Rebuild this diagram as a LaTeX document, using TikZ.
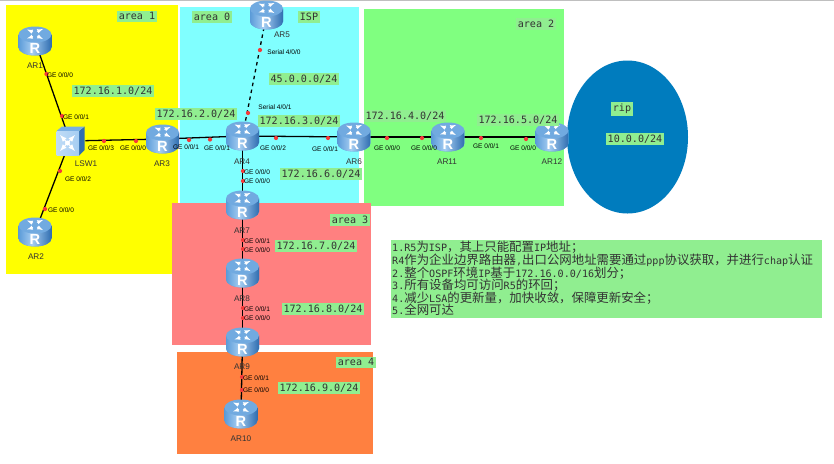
\documentclass[tikz,border=0pt]{standalone}
\usepackage{fontspec}
\setmainfont{Liberation Sans}
\setmonofont{DejaVu Sans Mono}
\newfontfamily\cjk{Noto Sans CJK SC}
\newcommand{\FP}{\fontsize{5.6}{6.5}\selectfont}
\newcommand{\FN}{\fontsize{7}{8}\selectfont}
\newcommand{\FM}{\ttfamily\fontsize{8.6}{10.8}\selectfont}
\newcommand{\zh}[1]{{\cjk\fontsize{10.6}{10.8}\selectfont #1}}
\definecolor{areaY}{HTML}{FFFF00}
\definecolor{areaC}{HTML}{80FFFF}
\definecolor{areaG}{HTML}{80FF80}
\definecolor{areaR}{HTML}{FF8080}
\definecolor{areaO}{HTML}{FF8040}
\definecolor{ripblue}{HTML}{007CBE}
\definecolor{tag}{HTML}{90EE90}
\definecolor{dotred}{HTML}{F53A3A}
\definecolor{icolight}{HTML}{A5CDF2}
\definecolor{icomid}{HTML}{5B9BD8}
\definecolor{icodark}{HTML}{2F6DB0}
\tikzset{
  router/.pic={
    \fill[icomid] (-16.5,-6.5) -- (-16.5,6.5)
      .. controls (-16.5,11) and (-9,14.5) .. (0,14.5)
      .. controls (9,14.5) and (16.5,11) .. (16.5,6.5)
      -- (16.5,-6.5) -- cycle;
    \begin{scope}
      \clip (-16.5,-6.5) -- (-16.5,6.5)
        .. controls (-16.5,11) and (-9,14.5) .. (0,14.5)
        .. controls (9,14.5) and (16.5,11) .. (16.5,6.5)
        -- (16.5,-6.5) -- cycle;
      \shade[left color=icomid,right color=icolight] (-16.5,-7) rectangle (-3,15);
      \shade[left color=icolight,right color=icodark] (-3,-7) rectangle (16.5,15);
    \end{scope}
    \fill[icomid!70!icolight] (0,-6.5) ellipse[x radius=16.5,y radius=8];
    \draw[white,line width=0.7pt,-latex] (-2,-9) -- (-8,-11.5);
    \draw[white,line width=0.7pt,-latex] (2,-9.5) -- (8,-12);
    \draw[white,line width=0.7pt,-latex] (-2,-4.5) -- (-8,-2.5);
    \draw[white,line width=0.7pt,-latex] (2,-5) -- (8,-2);
    \node[white,font=\bfseries\fontsize{12.5}{12.5}\selectfont,inner sep=0pt] (r) at (0,7.5) {R};
  },
  switchicon/.pic={
    \fill[icodark] (9,-10) -- (14.5,-14.5) -- (14.5,9) -- (9,14.5) -- cycle;
    \fill[icomid!60!icolight] (-13.5,-10) -- (-8,-14.5) -- (14.5,-14.5) -- (9,-10) -- cycle;
    \shade[left color=icolight!70!white,right color=icolight] (-13.5,-10) rectangle (9,14.5);
    \draw[white,line width=1pt,latex-latex] (-10,-6) -- (5,10);
    \draw[white,line width=1pt,latex-latex] (-10,10) -- (5,-6);
    \fill[white] (-2.5,2) circle (2.5);
  }
}
\begin{document}
\begin{tikzpicture}[x=0.03cm,y=-0.03cm]
\tikzstyle{dot}=[circle,fill=dotred,draw=none,inner sep=0pt,minimum size=3.6pt]
\tikzstyle{port}=[inner sep=0pt,text=black,font=\FP]
\tikzstyle{host}=[inner sep=0pt,text=black!80,font=\FN]
\tikzstyle{texto}=[fill=tag,inner sep=1.5pt,text=black!80,font=\FM]
\tikzstyle{link}=[black,line width=1.1pt]
\tikzstyle{hub}=[inner sep=0pt,minimum width=26pt,minimum height=21pt]

\useasboundingbox (0,0) rectangle (834,463);
\fill[white] (0,0) rectangle (834,463);
\fill[black!25!white] (0,0) rectangle (834,1.2);

\fill[areaY] (6,5) rectangle (178,274);
\fill[areaC] (180,7) rectangle (359,203);
\fill[areaG] (364,9) rectangle (564,206);
\fill[areaR] (172,203) rectangle (371,345);
\fill[areaO] (177,352) rectangle (373,454);
\fill[ripblue] (627.5,137) ellipse[x radius=60.5,y radius=76.5];

\foreach \hubname/\x/\y in {ar1/35/41,ar2/35/232,lsw1/70/141,ar3/162.5/139,ar4/242.5/136,ar5/266.5/15,ar6/354/137,ar11/448/137,ar12/552/137,ar7/242.5/205,ar8/242.5/273,ar9/242.5/342,ar10/241/414}
  \node[hub] (\hubname) at (\x,\y) {};

\draw[link] (ar1) -- (lsw1);
\draw[link] (ar2) -- (lsw1);
\draw[link] (lsw1) -- (ar3);
\draw[link] (ar3) -- (ar4);
\draw[link,dashed] (ar5) -- (ar4);
\draw[link] (ar4) -- (ar6);
\draw[link] (ar6) -- (ar11);
\draw[link] (ar11) -- (ar12);
\draw[link] (ar4) -- (ar7);
\draw[link] (ar7) -- (ar8);
\draw[link] (ar8) -- (ar9);
\draw[link] (ar9) -- (ar10);

\foreach \hubname in {ar1,ar2,ar3,ar4,ar5,ar6,ar11,ar12,ar7,ar8,ar9,ar10}
  \pic (\hubname) at (\hubname) {router};
\pic (lsw1) at (lsw1) {switchicon};

\foreach \x/\y [count=\i] in {46.5/74,62/116,60/171,45/209,104/141,136/141,189/140,210/139.5,260/50,248/113,276/138,328/138,387/138,422/138,481/138,526/139,243/171,243/181,243/240,243/249,243/308,243/318,242/377,242/390}
  \node[dot] (dot\i) at (\x,\y) {};

\node[port] (p1) at (60,75) {GE 0/0/0};
\node[port] (p2) at (76,117) {GE 0/0/1};
\node[port] (p3) at (78,179) {GE 0/0/2};
\node[port] (p4) at (61,210) {GE 0/0/0};
\node[port] (p5) at (101,148) {GE 0/0/3};
\node[port] (p6) at (133,148) {GE 0/0/0};
\node[port] (p7) at (186,147) {GE 0/0/1};
\node[port] (p8) at (217,148) {GE 0/0/1};
\node[port] (p9) at (284,52) {Serial 4/0/0};
\node[port] (p10) at (275,107) {Serial 4/0/1};
\node[port] (p11) at (273,148) {GE 0/0/2};
\node[port] (p12) at (325,149) {GE 0/0/1};
\node[port] (p13) at (387,148) {GE 0/0/0};
\node[port] (p14) at (424,148) {GE 0/0/0};
\node[port] (p15) at (486,146) {GE 0/0/1};
\node[port] (p16) at (523,148) {GE 0/0/0};
\node[port] (p17) at (257,172) {GE 0/0/0};
\node[port] (p18) at (257,181) {GE 0/0/0};
\node[port] (p19) at (257,241) {GE 0/0/1};
\node[port] (p20) at (257,250) {GE 0/0/0};
\node[port] (p21) at (257,309) {GE 0/0/1};
\node[port] (p22) at (257,318) {GE 0/0/0};
\node[port] (p23) at (256,378) {GE 0/0/1};
\node[port] (p24) at (256,390) {GE 0/0/0};

\node[host] (n1) at (35,66) {AR1};
\node[host] (n2) at (36,257) {AR2};
\node[host] (n3) at (86,164) {LSW1};
\node[host] (n4) at (162,164) {AR3};
\node[host] (n5) at (242,162) {AR4};
\node[host] (n6) at (282,35) {AR5};
\node[host] (n7) at (354,162) {AR6};
\node[host] (n8) at (447,162) {AR11};
\node[host] (n9) at (552,162) {AR12};
\node[host] (n10) at (242,231) {AR7};
\node[host] (n11) at (242,299) {AR8};
\node[host] (n12) at (242,367) {AR9};
\node[host] (n13) at (241,439) {AR10};

\node[texto] (a1) at (137,16) {area 1};
\node[texto] (a0) at (212,17) {area 0};
\node[texto] (isp) at (309,17) {ISP};
\node[texto] (a2) at (536,24) {area 2};
\node[texto] (a3) at (350,220) {area 3};
\node[texto] (a4) at (356,362) {area 4};
\node[texto] (net1) at (113,91) {172.16.1.0/24};
\node[texto] (net2) at (196,114) {172.16.2.0/24};
\node[texto] (net45) at (304,79) {45.0.0.0/24};
\node[texto] (net3) at (299,121) {172.16.3.0/24};
\node[texto] (net6) at (321,174) {172.16.6.0/24};
\node[texto] (net4) at (405,116) {172.16.4.0/24};
\node[texto] (net5) at (518,120) {172.16.5.0/24};
\node[texto] (netr) at (622,109) {rip};
\node[texto] (net10) at (635,139) {10.0.0/24};
\node[texto] (net7) at (316,246) {172.16.7.0/24};
\node[texto] (net8) at (323,309) {172.16.8.0/24};
\node[texto] (net9) at (319,388) {172.16.9.0/24};

\fill[tag] (391,240) rectangle (822,318);
\node[anchor=north west,inner sep=0pt,text=black!80,font=\FM,align=left] (req) at (392,241) {%
\lineskiplimit=-100pt
1.R5\zh{为}ISP\zh{，其上只能配置}IP\zh{地址；}\\
R4\zh{作为企业边界路由器}{,}\zh{出口公网地址需要通过}ppp\zh{协议获取，并进行}chap\zh{认证}\\
2.\zh{整个}OSPF\zh{环境}IP\zh{基于}172.16.0.0/16\zh{划分；}\\
3.\zh{所有设备均可访问}R5\zh{的环回；}\\
4.\zh{减少}LSA\zh{的更新量，加快收敛，保障更新安全；}\\
5.\zh{全网可达}};
\end{tikzpicture}
\end{document}
